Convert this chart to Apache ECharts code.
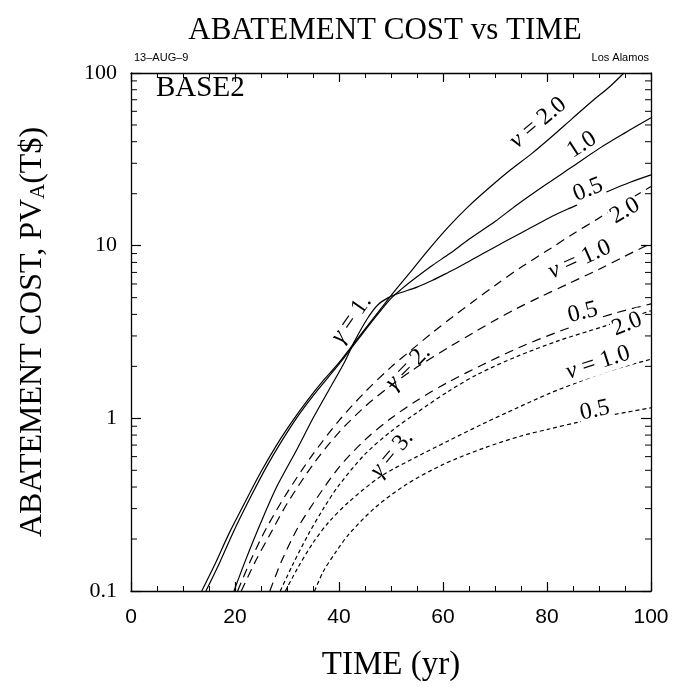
<!DOCTYPE html>
<html>
<head>
<meta charset="utf-8">
<script src="https://cdn.jsdelivr.net/npm/echarts/dist/echarts.min.js"></script>
<style>
  html, body { margin: 0; padding: 0; background: #fff; }
  #chart { width: 673px; height: 687px; }
</style>
</head>
<body>
<div id="chart"></div>
<script>
// Abatement cost (present value, T$) against time for three gamma values
// (solid γ=1, long dash γ=2, short dash γ=3) and three nu values each.

const xTicks = [0, 20, 40, 60, 80, 100];
const yTicks = [0.1, 1, 10, 100];

// gamma = 1
const g1nu20 = [[13.6,0.1],[16,0.14],[19,0.22],[22,0.33],[25,0.49],[28,0.7],[31,0.96],[34,1.28],[37,1.66],[40,2.1],[43,2.75],[46,3.6],[49,4.7],[51,5.6],[54,7.2],[57,9.3],[61,12.8],[65,17],[69,21.8],[73,27.5],[77,34],[81,43],[85,55],[89,70],[92,83],[94.8,100]];
const g1nu10 = [[14.4,0.1],[17,0.145],[20,0.23],[23,0.35],[26,0.52],[29,0.74],[32,1.02],[35,1.35],[38,1.74],[41,2.25],[44,2.95],[47,3.85],[50,4.95],[52,5.6],[55,6.6],[58,7.7],[61.3,9.0],[65,10.9],[70,13.8],[74.2,17.2],[80,22.8],[85,28.8],[90,36.5],[95,45],[100,55]];
const g1nu05 = [[19.8,0.1],[22,0.15],[25,0.25],[28,0.4],[31.9,0.66],[35,1.0],[38,1.45],[41,2.1],[43,2.8],[45.5,3.8],[47.5,4.55],[49.5,5.0],[51.5,5.3],[55,5.75],[58,6.3],[61,7.0],[64,7.8],[67.7,9.0],[72,10.6],[77.3,12.9],[81,14.8],[84.4,16.5],[88,18.4],[92,20.8],[96,23.3],[100,25.7]];

// gamma = 2
const g2nu20 = [[20.5,0.1],[23,0.15],[26,0.23],[30,0.37],[35,0.62],[40,0.97],[45,1.42],[50,1.98],[54,2.5],[58,3.14],[62,3.9],[66,4.8],[70.4,6.0],[75,7.5],[80.6,9.6],[85,11.7],[89.6,14.2],[94,17.2],[97.9,20.2],[100,22]];
const g2nu10 = [[21.2,0.1],[24,0.15],[27,0.22],[30,0.32],[35,0.54],[40,0.83],[45,1.17],[50,1.55],[55,1.98],[61.3,2.6],[66,3.15],[70,3.7],[74,4.3],[78.7,5.05],[84,6.0],[90,7.3],[95,8.7],[100,10.3]];
const g2nu05 = [[26.7,0.1],[29,0.15],[32,0.23],[35,0.32],[40,0.52],[45,0.75],[50,1.0],[55,1.27],[61,1.62],[67.7,2.05],[75,2.6],[82.5,3.2],[88,3.65],[93.5,4.1],[100,4.6]];

// gamma = 3
const g3nu20 = [[28.7,0.1],[31,0.14],[34,0.21],[37,0.3],[40,0.41],[45,0.62],[50,0.84],[55,1.08],[61.3,1.45],[67,1.82],[74.2,2.28],[82,2.8],[90.8,3.4],[95,3.75],[100,4.2]];
const g3nu10 = [[29.7,0.1],[32,0.135],[35,0.19],[38,0.25],[42,0.33],[48,0.46],[55,0.6],[61,0.74],[67.7,0.93],[74,1.14],[80.6,1.4],[86,1.62],[90,1.8],[95,2.0],[100,2.2]];
const g3nu05 = [[35.3,0.1],[37,0.13],[39.5,0.17],[42,0.215],[47,0.305],[53,0.415],[60,0.54],[67.7,0.67],[75,0.79],[80.6,0.87],[86,0.95],[93.5,1.06],[100,1.15]];

// curve annotations: [time, cost, text, rotation in degrees]
const curveLabels = [
  [78.3, 51.4, '{g|ν} = 2.0', 40],
  [86.7, 38.4, '1.0', 33],
  [87.9, 21.1, '0.5', 22],
  [95.0, 15.9, '2.0', 30],
  [86.3, 8.3, '{g|ν} = 1.0', 24],
  [86.9, 4.1, '0.5', 14],
  [95.4, 3.5, '2.0', 22],
  [89.8, 2.1, '{g|ν} = 1.0', 18],
  [89.2, 1.11, '0.5', 12]
];
const gammaLabels = [
  [42.4, 3.75, '{g|γ} = 1.', 55],
  [53.3, 1.97, '{g|γ} = 2.', 45],
  [50.2, 0.62, '{g|γ} = 3.', 50]
];

// minor decade ticks of the logarithmic cost axis
const minorLogTicks = [];
[0.1, 1, 10].forEach(function (d) {
  for (let k = 2; k <= 9; k++) minorLogTicks.push(+(d * k).toPrecision(2));
});

const SERIF = '"Liberation Serif", "DejaVu Serif", serif';
const SANS = '"Liberation Sans", "DejaVu Sans", sans-serif';
const INK = '#000';

function curve(name, data, type) {
  return {
    name: name, type: 'line', data: data, showSymbol: false, symbol: 'none',
    smooth: 0.3, clip: true, silent: true,
    lineStyle: { color: INK, width: 1.2, type: type }
  };
}

// text placed at data coordinates, rotated along the curve it names
function textSeries(items, withBg) {
  return {
    type: 'custom', silent: true, clip: false, z: 6,
    data: items.map(function (d) { return [d[0], d[1]]; }),
    encode: { x: 0, y: 1 },
    renderItem: function (params, api) {
      const d = items[params.dataIndex];
      const p = api.coord([api.value(0), api.value(1)]);
      return {
        type: 'text', x: p[0], y: p[1], rotation: d[3] * Math.PI / 180,
        style: {
          text: d[2], fill: INK, font: '24px ' + SERIF,
          align: 'center', verticalAlign: 'middle',
          backgroundColor: withBg ? '#fff' : null, padding: [0, 1],
          rich: { g: { fill: INK, font: 'italic 24px ' + SERIF } }
        }
      };
    }
  };
}

const chart = echarts.init(document.getElementById('chart'));

const baseX = {
  type: 'value', min: 0, max: 100, interval: 20,
  axisLine: { show: true, onZero: false, lineStyle: { color: INK, width: 1.3 } },
  axisTick: { show: true, inside: true, length: 9, lineStyle: { color: INK, width: 1.2 } },
  minorTick: { show: true, splitNumber: 4, length: 5, lineStyle: { color: INK, width: 1 } },
  splitLine: { show: false }
};
const baseY = {
  type: 'log', logBase: 10, min: 0.1, max: 100,
  axisLine: { show: true, onZero: false, lineStyle: { color: INK, width: 1.3 } },
  axisTick: { show: true, inside: true, length: 10, lineStyle: { color: INK, width: 1.2 } },
  splitLine: { show: false }
};

chart.setOption({
  animation: false,
  backgroundColor: '#fff',
  grid: { left: 131, top: 73, width: 520, height: 519, containLabel: false },
  xAxis: [
    Object.assign({}, baseX, {
      position: 'bottom',
      name: 'TIME (yr)', nameLocation: 'middle', nameGap: 58,
      nameTextStyle: { fontFamily: SERIF, fontSize: 33, color: INK },
      axisLabel: {
        margin: 16, fontFamily: SANS, fontSize: 21, color: INK,
        formatter: function (v) { return xTicks.indexOf(v) >= 0 ? String(v) : ''; }
      }
    }),
    Object.assign({}, baseX, { position: 'top', axisLabel: { show: false } })
  ],
  yAxis: [
    Object.assign({}, baseY, {
      position: 'left',
      name: 'ABATEMENT COST, PV{s|A}(T$)', nameLocation: 'middle', nameGap: 82, nameRotate: 90,
      nameTextStyle: {
        fontFamily: SERIF, fontSize: 32, color: INK,
        rich: { s: { fontFamily: SERIF, fontSize: 21, color: INK, padding: [12, 0, 0, 0] } }
      },
      axisLabel: {
        margin: 14, fontFamily: SERIF, fontSize: 22, color: INK,
        formatter: function (v) {
          const hit = yTicks.find(function (t) { return Math.abs(t - v) / t < 1e-6; });
          return hit === undefined ? '' : String(hit);
        }
      }
    }),
    Object.assign({}, baseY, { position: 'right', axisLabel: { show: false } })
  ],
  graphic: [
    { type: 'text', x: 385, y: 31, style: { text: 'ABATEMENT COST vs TIME', font: '31px ' + SERIF, fill: INK, textAlign: 'center', textVerticalAlign: 'middle' } },
    { type: 'text', x: 134, y: 58, style: { text: '13\u2013AUG\u20139', font: '11px ' + SANS, fill: INK, textAlign: 'left', textVerticalAlign: 'middle' } },
    { type: 'text', x: 649, y: 58, style: { text: 'Los Alamos', font: '11px ' + SANS, fill: INK, textAlign: 'right', textVerticalAlign: 'middle' } },
    { type: 'text', x: 156, y: 88, style: { text: 'BASE2', font: '29px ' + SERIF, fill: INK, textAlign: 'left', textVerticalAlign: 'middle' } }
  ],
  series: [
    curve('γ=1 ν=2.0', g1nu20, 'solid'),
    curve('γ=1 ν=1.0', g1nu10, 'solid'),
    curve('γ=1 ν=0.5', g1nu05, 'solid'),
    curve('γ=2 ν=2.0', g2nu20, [9, 6]),
    curve('γ=2 ν=1.0', g2nu10, [9, 6]),
    curve('γ=2 ν=0.5', g2nu05, [9, 6]),
    curve('γ=3 ν=2.0', g3nu20, [4, 3]),
    curve('γ=3 ν=1.0', g3nu10, [4, 3]),
    curve('γ=3 ν=0.5', g3nu05, [4, 3]),
    {
      type: 'custom', silent: true, clip: false, z: 4,
      data: minorLogTicks.map(function (v) { return [0, v]; }),
      encode: { x: 0, y: 1 },
      renderItem: function (params, api) {
        const v = api.value(1);
        const l = api.coord([0, v]);
        const r = api.coord([100, v]);
        const st = { stroke: INK, lineWidth: 1 };
        return {
          type: 'group',
          children: [
            { type: 'line', shape: { x1: l[0], y1: l[1], x2: l[0] + 6, y2: l[1] }, style: st },
            { type: 'line', shape: { x1: r[0] - 6, y1: r[1], x2: r[0], y2: r[1] }, style: st }
          ]
        };
      }
    },
    textSeries(curveLabels, true),
    textSeries(gammaLabels, false)
  ]
});
</script>
</body>
</html>
